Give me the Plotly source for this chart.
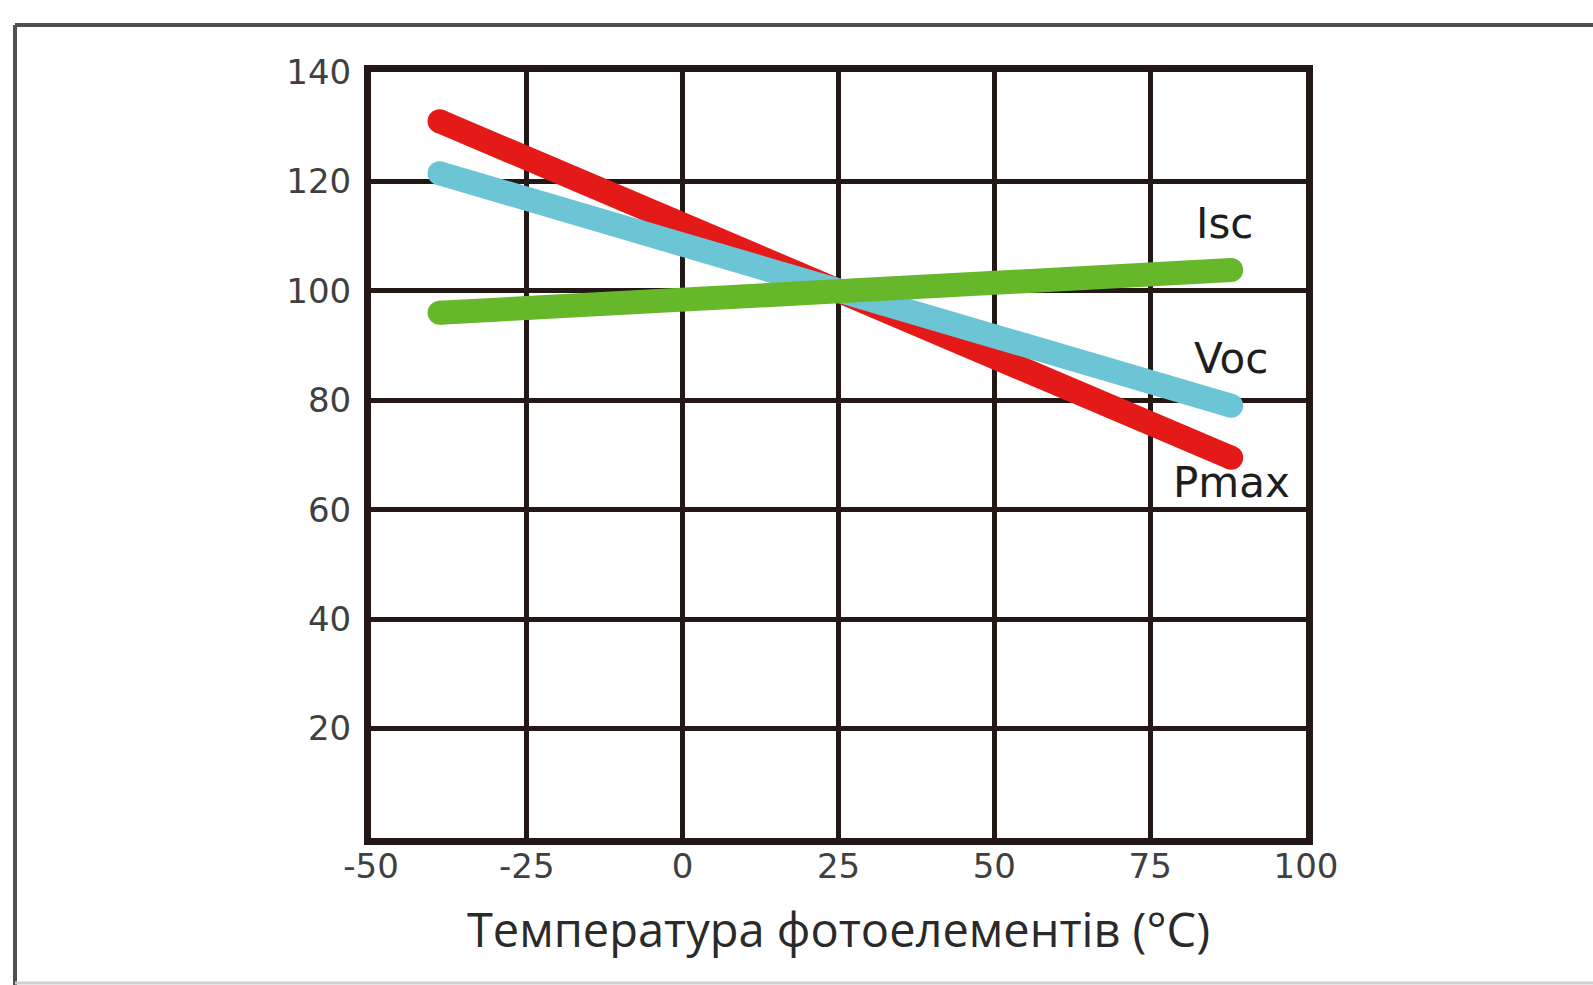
import plotly.graph_objects as go

temps = [-39, 25, 88]
pmax = [131, 100, 69.5]
voc = [121.5, 100, 79]
isc = [96, 100, 103.8]

series_names = ["Pmax", "Voc", "Isc"]
series_values = [pmax, voc, isc]
series_colors = ["#e31a17", "#6cc5d4", "#66b82a"]

label_x = [88, 88, 87]
label_y = [65, 87.6, 112.4]

x_ticks = [-50, -25, 0, 25, 50, 75, 100]
y_ticks = [20, 40, 60, 80, 100, 120, 140]

W, H = 1593, 985
L, R, T, B = 371, 287, 72, 147
pw, ph = W - L - R, H - T - B

def px2x(px):
    return (px - L) / pw

def px2y(py):
    return (H - B - py) / ph

fig = go.Figure()
for name, vals, col in zip(series_names, series_values, series_colors):
    fig.add_trace(go.Scatter(
        x=temps, y=vals, mode="lines", name=name,
        line=dict(color=col, width=24),
        showlegend=False, hoverinfo="skip"))
    fig.add_trace(go.Scatter(
        x=[temps[0], temps[-1]], y=[vals[0], vals[-1]], mode="markers",
        marker=dict(color=col, size=24, opacity=1, line=dict(width=0)),
        showlegend=False, hoverinfo="skip"))

for name, lx, ly in zip(series_names, label_x, label_y):
    fig.add_annotation(x=lx, y=ly, text=name, showarrow=False,
                       font=dict(family="DejaVu Sans", size=42, color="#1e1e1e"))

fig.update_xaxes(range=[-50, 100], tickmode="array", tickvals=x_ticks,
                 ticktext=[str(v) for v in x_ticks],
                 showgrid=True, gridcolor="#231815", gridwidth=5,
                 showline=True, linecolor="#231815", linewidth=7, mirror=True,
                 zeroline=False, ticks="", ticklabelstandoff=-8,
                 tickfont=dict(family="DejaVu Sans", size=34, color="#404040"),
                 title=dict(text="Температура фотоелементів (°C)", standoff=32,
                            font=dict(family="Open Sans", size=47, color="#2a2a2a")))
fig.update_yaxes(range=[0, 140], tickmode="array", tickvals=y_ticks,
                 ticktext=[str(v) for v in y_ticks],
                 showgrid=True, gridcolor="#231815", gridwidth=5,
                 showline=True, linecolor="#231815", linewidth=7, mirror=True,
                 zeroline=False, ticks="", ticklabelstandoff=6,
                 tickfont=dict(family="DejaVu Sans", size=34, color="#404040"))

# outer frame
fig.add_shape(type="line", xref="paper", yref="paper",
              x0=px2x(15), x1=px2x(1600), y0=px2y(25), y1=px2y(25),
              line=dict(color="#505050", width=4))
fig.add_shape(type="line", xref="paper", yref="paper",
              x0=px2x(15), x1=px2x(15), y0=px2y(25), y1=px2y(990),
              line=dict(color="#505050", width=4))
fig.add_shape(type="line", xref="paper", yref="paper",
              x0=px2x(15), x1=px2x(1600), y0=px2y(983), y1=px2y(983),
              line=dict(color="#cfcfcf", width=3))

fig.update_layout(width=W, height=H, margin=dict(l=L, r=R, t=T, b=B),
                  paper_bgcolor="white", plot_bgcolor="white")

fig.write_html("out.html", config={"displayModeBar": False},
               post_script="document.body.style.margin='0px';document.body.style.overflow='hidden';")
